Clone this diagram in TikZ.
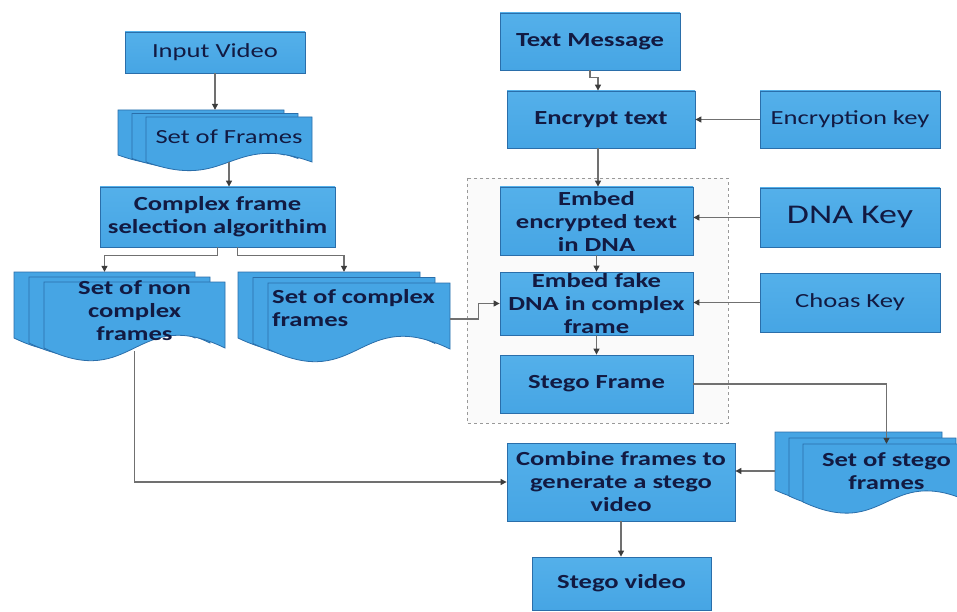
\documentclass[tikz,border=0pt]{standalone}
\usepackage{fontspec}
\setmainfont{Carlito}[FakeStretch=1.33]
\usetikzlibrary{arrows.meta,calc}
\definecolor{boxblue}{RGB}{70,165,228}
\definecolor{boxtop}{RGB}{84,176,234}
\definecolor{boxedge}{RGB}{42,110,170}
\definecolor{txt}{RGB}{18,26,66}
\definecolor{linec}{RGB}{112,112,112}
\definecolor{tipc}{RGB}{60,60,60}
\tikzset{
  box/.style={draw=boxedge, top color=boxtop, bottom color=boxblue, line width=0.8pt,
    text=txt, align=center, inner sep=0pt, font=\fontsize{20}{23}\selectfont},
  bbox/.style={box, font=\fontsize{20}{23}\selectfont\bfseries},
  sheet/.style={draw=boxedge, fill=boxblue, line width=0.8pt},
  doctext/.style={text=txt, align=center, inner sep=0pt, font=\fontsize{20}{23}\selectfont\bfseries},
  arr/.style={draw=linec, line width=1.1pt, -{Triangle[length=6pt,width=6pt,color=tipc]}},
  dashbox/.style={draw=gray!80, dashed, line width=0.9pt, fill=gray!4}
}
\newcommand\mybox[7]{%
  \pgfmathsetmacro\bw{#4-#2}\pgfmathsetmacro\bh{#5-#3}%
  \pgfmathsetmacro\bcx{(#2+#4)/2}\pgfmathsetmacro\bcy{(#3+#5)/2}%
  \node[#6, minimum width=\bw pt, minimum height=\bh pt] (#1) at (\bcx,\bcy) {#7};}
% name, x, y, w, h, dx, dy, text, text options
\newcommand\mdoc[9]{%
  \pgfmathsetmacro\mdA{#5/3}%
  \foreach \kk in {0,1,2}{%
    \pgfmathsetmacro\mdXa{#2+\kk*#6}%
    \pgfmathsetmacro\mdXb{#2+\kk*#6+#4}%
    \pgfmathsetmacro\mdXm{#2+\kk*#6+#4/2}%
    \pgfmathsetmacro\mdYt{#3+\kk*#7}%
    \pgfmathsetmacro\mdYb{#3+\kk*#7+#5}%
    \pgfmathsetmacro\mdYu{#3+\kk*#7+#5-2*\mdA}%
    \pgfmathsetmacro\mdYd{#3+\kk*#7+#5+2*\mdA}%
    \draw[sheet] (\mdXa,\mdYt) -- (\mdXb,\mdYt) -- (\mdXb,\mdYb)
      .. controls (\mdXm,\mdYu) and (\mdXm,\mdYd) .. (\mdXa,\mdYb) -- cycle;
  }%
  \pgfmathsetmacro\mdBx{#2+#4/2}\pgfmathsetmacro\mdBy{#3+#5/2}%
  \pgfmathsetmacro\mdFx{#2+2*#6+#4/2}\pgfmathsetmacro\mdFy{#3+2*#7+#5/2}%
  \node[inner sep=0pt, minimum width=#4 pt, minimum height=#5 pt] (#1b) at (\mdBx,\mdBy) {};
  \node[inner sep=0pt, minimum width=#4 pt, minimum height=#5 pt] (#1) at (\mdFx,\mdFy) {};
  \node[doctext,#9] (#1t) at (\mdFx,\mdFy) {#8};
}
\begin{document}
\begin{tikzpicture}[x=1pt,y=-1pt]
\useasboundingbox[fill=white] (0,0) rectangle (957,612);
\draw[dashbox] (467,178) rectangle (728,423);

% left column
\mybox{input}{125}{32}{305}{73}{box}{Input Video}
\mdoc{frames}{118}{110}{166}{45}{14}{3.5}{Set of Frames}{font=\fontsize{20}{23}\selectfont, yshift=3pt}
\mybox{sel}{100}{187}{335}{247}{bbox}{Complex frame\\selection algorithim}
\mdoc{nonc}{14}{272}{181}{66}{15}{5}{Set of non\\complex\\frames}{yshift=4pt}
\mdoc{cf}{238}{272}{182}{66}{15}{5.5}{Set of complex\\frames}{anchor=west, align=left, xshift=-87pt, yshift=8pt}

% right column
\mybox{tm}{500}{13}{680}{70}{bbox}{Text Message}
\mybox{enc}{507}{91}{695}{148}{bbox}{Encrypt text}
\mybox{enckey}{760}{91}{940}{148}{box}{Encryption key}
\mybox{emb}{500}{187}{693}{255}{bbox}{Embed\\encrypted text\\in DNA}
\mybox{dnakey}{760}{188}{940}{247}{box, font=\fontsize{27}{30}\selectfont}{DNA Key}
\mybox{fake}{500}{272}{693}{335}{bbox}{Embed fake\\DNA in complex\\frame}
\mybox{chaos}{760}{273}{940}{332}{box}{Choas Key}
\mybox{sf}{500}{355}{693}{413}{bbox}{Stego Frame}
\mdoc{stf}{775}{432}{167}{58}{14}{6}{Set of stego\\frames}{yshift=2pt}
\mybox{comb}{507}{443}{735}{521}{bbox}{Combine frames to\\generate a stego\\video}
\mybox{video}{532}{557}{711}{610}{bbox}{Stego video}

% connectors
\draw[arr] (input.south) -- (input.south |- framesb.north);
\draw[arr] (frames.south) -- (frames.south |- sel.north);
\draw[arr] (sel.south) -- ++(0,8) -| (noncb.north);
\draw[arr] ([xshift=20pt]sel.south) -- ++(0,8) -| ([xshift=15pt]cfb.north);
\draw[arr] ([yshift=-3pt]nonc.south) |- (comb.west);
\draw[arr] ([yshift=-3pt]cf.east) -- ++(28,0) |- (fake.west);
\draw[arr] (tm.south) -- ++(0,7) -| ([xshift=-3pt]enc.north);
\draw[arr] (enckey.west) -- (enc.east);
\draw[arr] ([xshift=-3pt]enc.south) -- ([xshift=-3pt]enc.south |- emb.north);
\draw[arr] (dnakey.west) -- (dnakey.west -| emb.east);
\draw[arr] (emb.south) -- (fake.north);
\draw[arr] (chaos.west) -- (chaos.west -| fake.east);
\draw[arr] (fake.south) -- (sf.north);
\draw[arr] (sf.east) -| (stf.north);
\draw[arr] ([yshift=-10pt]stfb.west) -- ([yshift=-10pt]stfb.west -| comb.east);
\draw[arr] (comb.south) -- (comb.south |- video.north);
\end{tikzpicture}
\end{document}
